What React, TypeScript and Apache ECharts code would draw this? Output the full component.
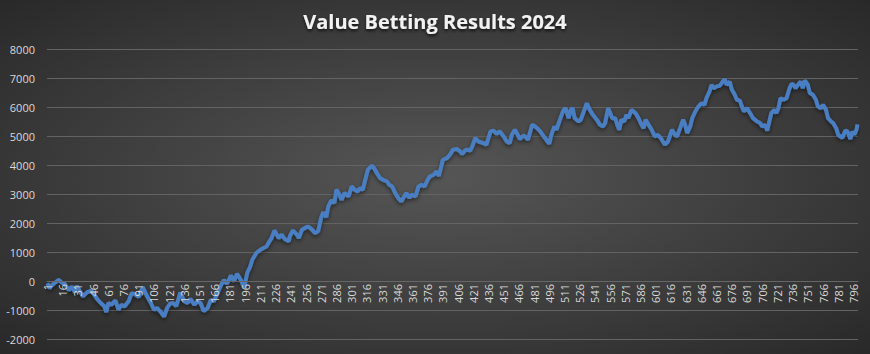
import React, { useEffect, useRef } from "react";
import * as echarts from "echarts";

const TITLE = "Value Betting Results 2024";
const BET_COUNT = 800;
const Y_MIN = -2000;
const Y_MAX = 8000;
const Y_STEP = 1000;

// bet number at which a reading was taken
const betNo: number[] = [
  1, 3, 5, 8, 12, 15, 18, 22, 25, 28, 30, 34, 36, 40, 44, 47, 50, 53, 57, 59,
  61, 64, 68, 71, 74, 77, 81, 84, 87, 91, 95, 99, 103, 106, 109, 113, 116, 119, 122, 125,
  128, 132, 136, 139, 142, 146, 149, 152, 155, 159, 162, 165, 168, 172, 175, 178, 182, 185, 188, 192,
  195, 198, 201, 203, 207, 211, 214, 217, 220, 222, 225, 229, 232, 235, 239, 240, 243, 247, 249, 252,
  255, 258, 262, 265, 268, 271, 273, 276, 278, 281, 284, 286, 289, 291, 294, 298, 301, 304, 307, 309,
  312, 314, 317, 321, 323, 326, 329, 332, 336, 338, 341, 344, 347, 350, 353, 355, 358, 360, 364, 367,
  370, 373, 376, 378, 382, 385, 387, 389, 391, 395, 398, 401, 405, 408, 410, 413, 415, 418, 420, 423,
  426, 431, 434, 438, 441, 444, 447, 451, 454, 457, 459, 462, 464, 467, 470, 472, 475, 479, 482, 484,
  487, 490, 493, 496, 498, 501, 503, 507, 510, 512, 515, 517, 519, 521, 525, 527, 530, 533, 536, 539,
  543, 546, 549, 551, 554, 556, 558, 561, 563, 565, 567, 570, 572, 574, 577, 581, 584, 587, 589, 591,
  594, 597, 600, 603, 606, 608, 610, 613, 617, 620, 622, 625, 628, 630, 632, 635, 637, 640, 643, 646,
  649, 651, 654, 656, 658, 661, 664, 667, 669, 671, 674, 676, 679, 681, 684, 686, 688, 691, 694, 697,
  701, 704, 706, 709, 711, 713, 715, 718, 720, 722, 724, 727, 730, 733, 735, 737, 739, 742, 744, 746,
  748, 751, 753, 756, 759, 761, 764, 766, 769, 771, 774, 776, 779, 781, 783, 785, 788, 790, 793, 795,
  797, 799, 800,
];

// cumulative profit at that bet
const profit: number[] = [
  -80, -250, -160, -70, 40, -50, -100, -320, -190, -390, -170, -410, -530, -390, -330, -470, -620, -740, -870, -1070,
  -760, -820, -670, -990, -820, -880, -700, -420, -450, -550, -210, -510, -760, -990, -930, -1080, -1230, -930, -780, -760,
  -870, -400, -700, -760, -620, -820, -700, -760, -1040, -930, -650, -700, -480, -150, 30, -90, 190, -10, 250, 20,
  -240, 280, 500, 735, 965, 1080, 1140, 1190, 1370, 1480, 1745, 1480, 1600, 1450, 1370, 1540, 1745, 1600, 1480, 1770,
  1830, 1880, 1770, 1650, 1720, 2200, 2370, 2200, 2570, 2780, 2690, 3150, 2975, 2800, 3030, 2920, 3260, 3150, 3090, 3200,
  3150, 3430, 3840, 3975, 3900, 3720, 3550, 3490, 3430, 3320, 3260, 3030, 2860, 2745, 2920, 3030, 2860, 2975, 2920, 3260,
  3320, 3260, 3490, 3600, 3665, 3780, 3620, 3895, 4180, 4240, 4355, 4530, 4550, 4470, 4380, 4505, 4525, 4500, 4640, 4930,
  4810, 4755, 4700, 5160, 5180, 5075, 5160, 4985, 4810, 4755, 5040, 5215, 5100, 4890, 5010, 4985, 4870, 5390, 5330, 5270,
  5160, 5010, 4870, 4730, 5040, 5330, 5215, 5615, 5900, 5960, 5615, 5900, 5960, 5615, 5500, 5560, 5845, 6130, 5900, 5730,
  5555, 5385, 5330, 5440, 5960, 5800, 5615, 5615, 5385, 5215, 5560, 5500, 5730, 5615, 5900, 5790, 5615, 5385, 5270, 5560,
  5385, 5215, 4985, 5040, 4930, 4810, 4700, 4810, 5215, 5040, 4985, 5270, 5560, 5385, 5100, 5330, 5615, 5845, 6015, 6130,
  6075, 6305, 6535, 6765, 6650, 6710, 6730, 6870, 6960, 6765, 6870, 6600, 6420, 6250, 6220, 6015, 5845, 5960, 5790, 5615,
  5500, 5445, 5330, 5385, 5190, 5500, 5790, 5900, 5790, 5960, 6305, 6250, 6305, 6650, 6800, 6765, 6650, 6800, 6880, 6650,
  6915, 6770, 6480, 6420, 6250, 6015, 5960, 6075, 5900, 5615, 5500, 5445, 5270, 5040, 4985, 4930, 5190, 5160, 4900, 5150,
  5050, 5220, 5400,
];

const categories: string[] = [];
for (let n = 1; n <= BET_COUNT; n++) categories.push(String(n));

const GRID_TOP = 49;
const GRID_BOTTOM = 15;
const CHART_H = 354;

export default function App() {
  const ref = useRef<HTMLDivElement>(null);
  useEffect(() => {
    if (!ref.current) return;
    const chart = echarts.init(ref.current, null, { renderer: "svg" });
    const data = betNo.map((n, k) => [n - 1, profit[k]]);
    // shift the category axis up so it sits on the zero line
    const plotH = CHART_H - GRID_TOP - GRID_BOTTOM;
    const zeroOffset = -plotH * (0 - Y_MIN) / (Y_MAX - Y_MIN);
    chart.setOption({
      animation: false,
      backgroundColor: {
        type: "radial",
        x: 0.5,
        y: 0.5,
        r: 0.75,
        colorStops: [
          { offset: 0, color: "#565656" },
          { offset: 1, color: "#262626" },
        ],
      },
      title: {
        text: TITLE,
        left: "center",
        top: 6,
        textStyle: {
          color: "#f2f2f2",
          fontFamily: "Open Sans",
          fontWeight: "bold",
          fontSize: 20,
          textShadowColor: "rgba(0,0,0,0.7)",
          textShadowBlur: 3,
          textShadowOffsetY: 2,
        },
      },
      grid: { left: 47, right: 12, top: GRID_TOP, bottom: GRID_BOTTOM, containLabel: false },
      xAxis: {
        type: "category",
        data: categories,
        boundaryGap: true,
        position: "bottom",
        offset: zeroOffset,
        z: 10,
        axisLine: { onZero: false, lineStyle: { color: "#666666", width: 1 } },
        axisTick: { show: false },
        axisLabel: {
          interval: 14,
          rotate: 90,
          color: "#d9d9d9",
          fontSize: 11,
          fontFamily: "Open Sans",
          margin: 3,
          hideOverlap: false,
        },
        splitLine: { show: false },
      },
      yAxis: {
        type: "value",
        min: Y_MIN,
        max: Y_MAX,
        interval: Y_STEP,
        axisLine: { show: false },
        axisTick: { show: false },
        axisLabel: {
          color: "#d9d9d9",
          fontSize: 11,
          fontFamily: "Open Sans",
          margin: 12,
          formatter: (v: number) => String(v),
        },
        splitLine: { lineStyle: { color: "#636363", width: 1 } },
      },
      series: [
        {
          type: "line",
          data,
          z: 2,
          showSymbol: false,
          smooth: false,
          lineStyle: {
            color: "#4a7fc2",
            width: 4,
            shadowColor: "rgba(0,0,0,0.5)",
            shadowBlur: 4,
            shadowOffsetY: 2,
          },
        },
      ],
    });
    return () => chart.dispose();
  }, []);
  return (
    <div
      ref={ref}
      style={{ position: "absolute", left: 0, top: 0, width: 870, height: 354 }}
    />
  );
}
